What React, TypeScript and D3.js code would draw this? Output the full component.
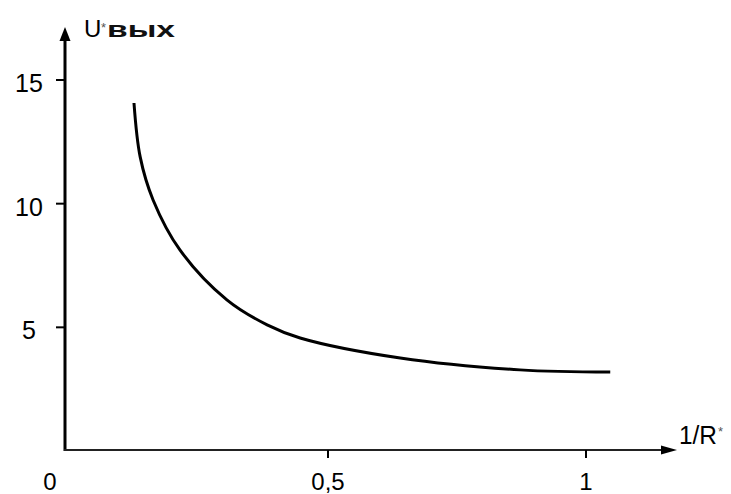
import React from "react";
import * as d3 from "d3";

// Data
const curveX = [0.124, 0.136, 0.161, 0.213, 0.304, 0.382, 0.446, 0.64, 0.872, 1.047];
const curveY = [14.07, 11.89, 10.15, 8.13, 6.11, 5.1, 4.57, 3.76, 3.28, 3.19];
const xTicks = [0.5, 1];
const xTickLabels = ["0,5", "1"];
const yTicks = [5, 10, 15];
const yTickLabels = ["5", "10", "15"];
const originLabel = "0";
const yTitle = ["U", "*", "вых"];
const xTitle = ["1/R", "*"];

const W = 731;
const H = 494;
const FONT = "'Liberation Sans', Arial, sans-serif";

export default function App() {
  const x = d3.scaleLinear().domain([0, 1]).range([70, 586]);
  const y = d3.scaleLinear().domain([0, 15]).range([451, 80]);

  const axisX = 65; // y-axis line position
  const axisY = 450; // x-axis line position

  const pts = curveX.map((v, i) => [v, curveY[i]] as [number, number]);
  const line = d3
    .line<[number, number]>()
    .x((d) => x(d[0]))
    .y((d) => y(d[1]))
    .curve(d3.curveCatmullRom.alpha(0.5));

  return (
    <svg
      width={W}
      height={H}
      style={{ position: "absolute", left: 0, top: 0, background: "#fff" }}
    >
      {/* y axis */}
      <line x1={axisX} y1={axisY + 1} x2={axisX} y2={36} stroke="#000" strokeWidth={3} />
      <path d={`M${axisX},27 L${axisX + 5.5},41 L${axisX - 5.5},41 Z`} fill="#000" />
      {/* x axis */}
      <line x1={axisX - 1} y1={axisY} x2={668} y2={axisY} stroke="#222" strokeWidth={2.2} />
      <path d={`M677,${axisY} L661,${axisY + 4.5} L661,${axisY - 4.5} Z`} fill="#000" />

      {/* y ticks */}
      {yTicks.map((t, i) => (
        <g key={"y" + t}>
          <line x1={axisX - 9} x2={axisX} y1={y(t)} y2={y(t)} stroke="#000" strokeWidth={2} />
          <text
            x={29}
            y={y(t) + 12}
            textAnchor="middle"
            fontFamily={FONT}
            fontSize={25}
            fill="#000"
          >
            {yTickLabels[i]}
          </text>
        </g>
      ))}

      {/* x ticks */}
      {xTicks.map((t, i) => (
        <g key={"x" + t}>
          <line x1={x(t)} x2={x(t)} y1={axisY} y2={axisY + 8} stroke="#000" strokeWidth={2} />
          <text
            x={x(t)}
            y={490}
            textAnchor="middle"
            fontFamily={FONT}
            fontSize={24}
            fill="#000"
          >
            {xTickLabels[i]}
          </text>
        </g>
      ))}
      <text x={x(0) - 20} y={490} textAnchor="middle" fontFamily={FONT} fontSize={24} fill="#000">
        {originLabel}
      </text>

      {/* y title */}
      <text x={84} y={37} fontFamily={FONT} fontSize={24} fill="#000">
        {yTitle[0]}
      </text>
      <text x={101} y={32} fontFamily={FONT} fontSize={13} fill="#555">
        {yTitle[1]}
      </text>
      <text
        x={107}
        y={37}
        fontFamily={FONT}
        fontSize={22}
        fontWeight="bold"
        textLength={68}
        lengthAdjust="spacingAndGlyphs"
        fill="#111"
      >
        {yTitle[2]}
      </text>

      {/* x title */}
      <text
        x={679}
        y={444}
        fontFamily={FONT}
        fontSize={26}
        textLength={38}
        lengthAdjust="spacingAndGlyphs"
        fill="#000"
      >
        {xTitle[0]}
      </text>
      <text x={718} y={436} fontFamily={FONT} fontSize={13} fill="#555">
        {xTitle[1]}
      </text>

      {/* curve */}
      <path d={line(pts) || ""} fill="none" stroke="#000" strokeWidth={3} strokeLinecap="butt" />
    </svg>
  );
}
